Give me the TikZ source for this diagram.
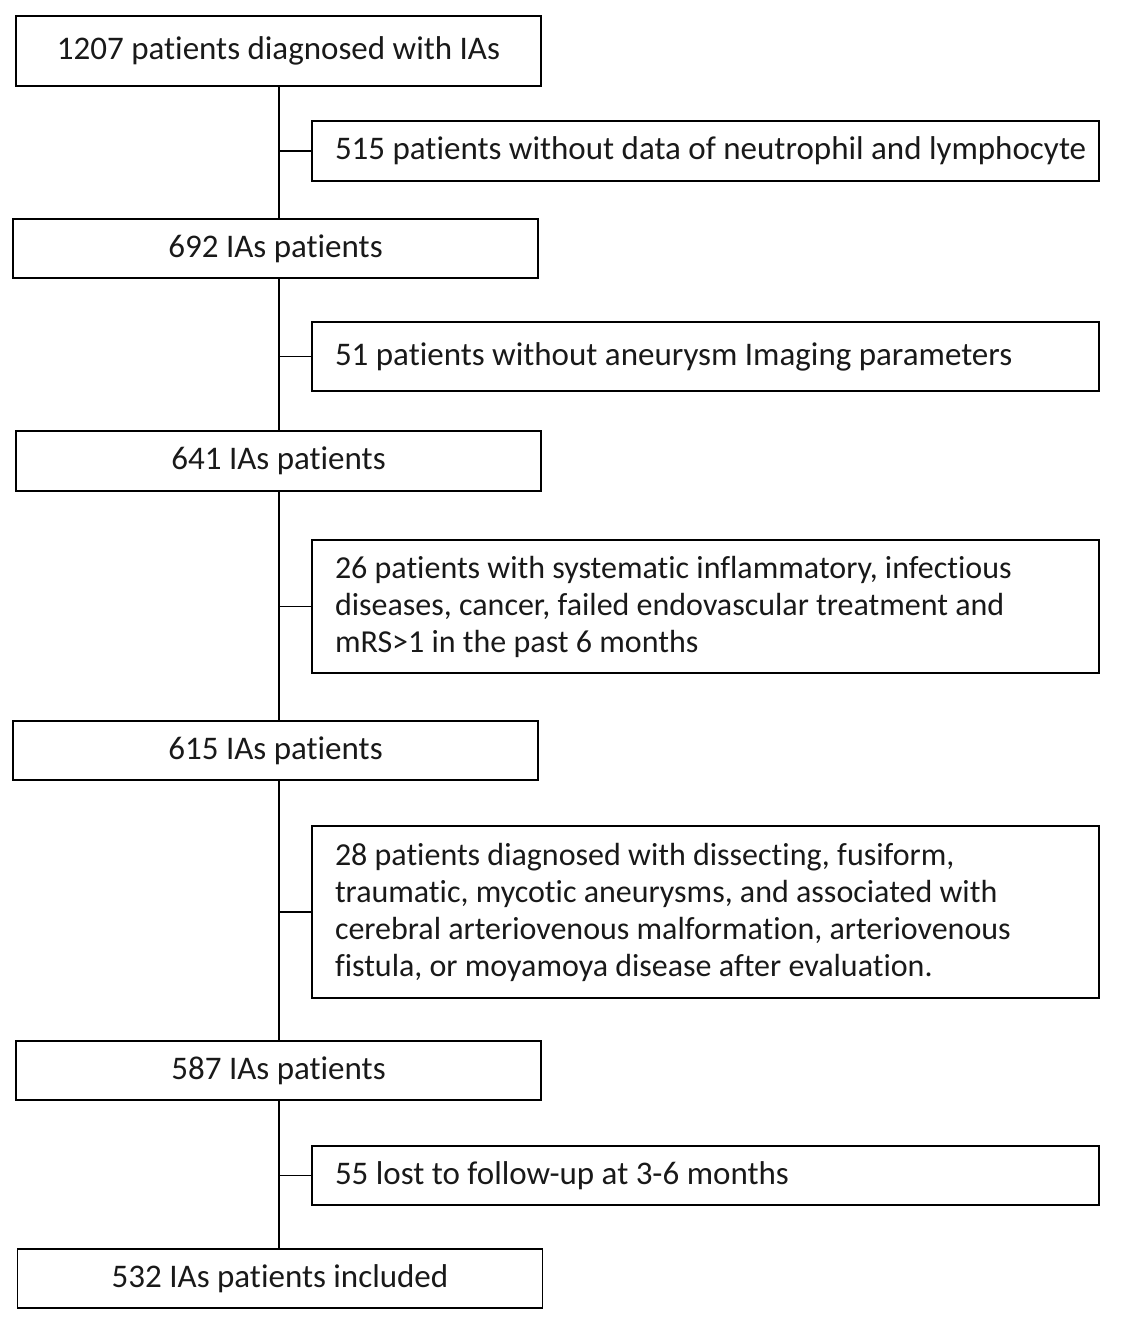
\documentclass[tikz,border=0pt]{standalone}
\usepackage{fontspec}
\setmainfont{Carlito}[Ligatures=NoCommon]
\begin{document}
\begin{tikzpicture}[x=1pt,y=-1pt,
  every node/.style={inner sep=0pt, outer sep=0pt},
  mainbox/.style={draw=black, line width=1.7pt, minimum width=525pt, align=center,
    font=\fontsize{33}{37}\selectfont, text=black!90},
  sidebox/.style={draw=black, line width=1.7pt, anchor=west, minimum width=787pt,
    font=\fontsize{33}{37}\selectfont, text=black!90},
  multibox/.style={draw=black, line width=1.7pt, anchor=west, inner xsep=23pt,
    text width=741pt, align=flush left, font=\fontsize{32}{37}\selectfont, text=black!90},
  link/.style={draw=black, line width=1.7pt}]
\useasboundingbox (0,0) rectangle (1121,1325);
\coordinate (spine) at (279,0);

\node[mainbox, minimum height=70pt] (b1) at (278.5,51) {1207 patients diagnosed with IAs};
\node[sidebox, minimum height=60pt] (r2) at (312,151) {\makebox[741pt][l]{515 patients without data of neutrophil and lymphocyte}};
\node[mainbox, minimum height=59pt] (b3) at (275.5,248.5) {692 IAs patients};
\node[sidebox, minimum height=69pt] (r4) at (312,356.5) {\makebox[741pt][l]{51 patients without aneurysm Imaging parameters}};
\node[mainbox, minimum height=60pt] (b5) at (278.5,461) {641 IAs patients};
\node[multibox, minimum height=133pt] (r6) at (312,606.5) {26 patients with systematic inflammatory, infectious\\diseases, cancer, failed endovascular treatment and\\mRS>1 in the past 6 months};
\node[mainbox, minimum height=59pt] (b7) at (275.5,750.5) {615 IAs patients};
\node[multibox, minimum height=172pt] (r8) at (312,912) {28 patients diagnosed with dissecting, fusiform,\\traumatic, mycotic aneurysms, and associated with\\cerebral arteriovenous malformation, arteriovenous\\fistula, or moyamoya disease after evaluation.};
\node[mainbox, minimum height=59pt] (b9) at (278.5,1070.5) {587 IAs patients};
\node[sidebox, minimum height=59pt] (r10) at (312,1175.5) {\makebox[741pt][l]{55 lost to follow-up at 3-6 months}};
\node[mainbox, minimum height=59pt] (b11) at (280,1278.5) {532 IAs patients included};

\draw[link] (b1.south -| spine) -- (b3.north -| spine);
\draw[link] (b3.south -| spine) -- (b5.north -| spine);
\draw[link] (b5.south -| spine) -- (b7.north -| spine);
\draw[link] (b7.south -| spine) -- (b9.north -| spine);
\draw[link] (b9.south -| spine) -- (b11.north -| spine);
\draw[link] (r2.west -| spine) -- (r2.west);
\draw[link] (r4.west -| spine) -- (r4.west);
\draw[link] (r6.west -| spine) -- (r6.west);
\draw[link] (r8.west -| spine) -- (r8.west);
\draw[link] (r10.west -| spine) -- (r10.west);
\end{tikzpicture}
\end{document}
